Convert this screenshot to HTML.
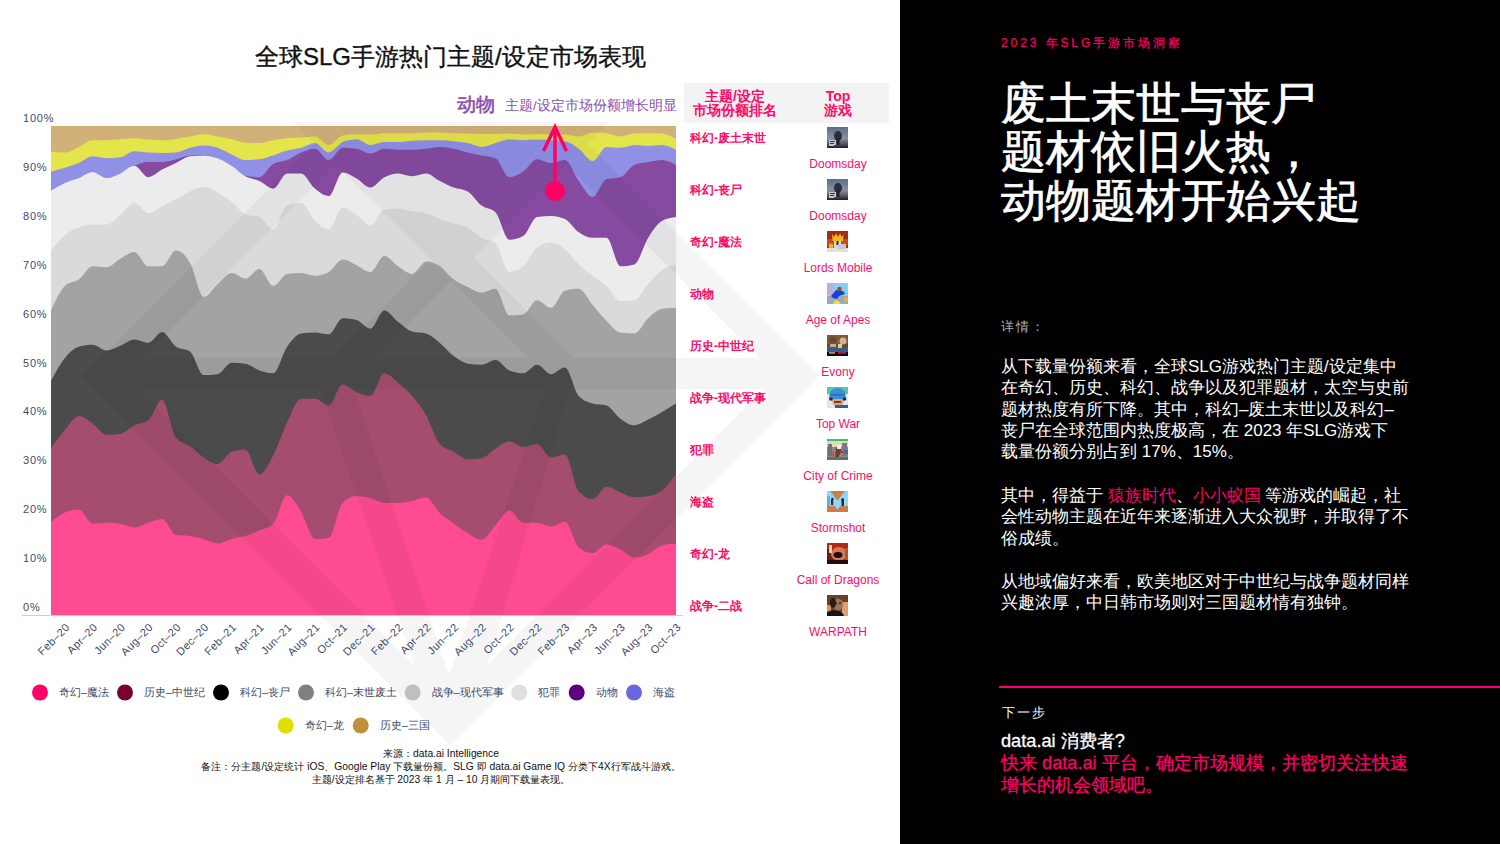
<!DOCTYPE html>
<html><head><meta charset="utf-8">
<style>
*{margin:0;padding:0;box-sizing:border-box}
html,body{width:1500px;height:844px;overflow:hidden;background:#fff;font-family:"Liberation Sans",sans-serif}
#left{position:absolute;left:0;top:0;width:900px;height:844px;background:#fff;overflow:hidden}
#right{position:absolute;left:900px;top:0;width:600px;height:844px;background:#000;overflow:hidden}
.abs{position:absolute;white-space:nowrap}
#title{left:255px;top:41.5px;font-size:24px;color:#111;line-height:30px;-webkit-text-stroke:0.35px #111}
svg text{font-family:"Liberation Sans",sans-serif}
.rname{position:absolute;left:690px;font-size:12px;font-weight:bold;color:#ff0a66;line-height:16px;white-space:nowrap}
.icon{position:absolute;left:827px;width:21px;height:21px}
.gname{position:absolute;left:788px;width:100px;text-align:center;font-size:12px;color:#ff0a66;line-height:16px;white-space:nowrap}
#thead{position:absolute;left:684px;top:83px;width:205px;height:40px;background:#f3f3f3}
.th{position:absolute;text-align:center;font-size:14px;font-weight:bold;color:#ff0a66;line-height:14px}
.note{position:absolute;left:0;width:882px;text-align:center;font-size:10.3px;color:#111;line-height:13px;white-space:nowrap}
#kicker{left:101px;top:35px;font-size:12px;color:#ff0066;letter-spacing:2.9px;line-height:16px;-webkit-text-stroke:0.2px #ff0066}
#big{left:101px;top:79.5px;font-size:45px;color:#fff;line-height:48.8px;-webkit-text-stroke:0.7px #fff}
#detail{left:101px;top:319px;font-size:13px;color:#b0b0b0;letter-spacing:2px;line-height:16px}
.para{position:absolute;left:101px;font-size:17px;color:#fff;line-height:21.4px;white-space:nowrap}
.pk{color:#ff0066}
#pline{position:absolute;left:99px;top:686px;width:501px;height:2px;background:#ff0072}
#next{left:102px;top:705px;font-size:13px;color:#fff;letter-spacing:2px;line-height:16px}
#q{left:101px;top:730px;font-size:18.2px;color:#fff;line-height:22px;-webkit-text-stroke:0.3px #fff}
#cta{left:101px;top:752px;font-size:18.2px;color:#ff0066;line-height:22px;-webkit-text-stroke:0.3px #ff0066}
</style></head><body>
<div id="left">
<div id="title" class="abs">全球SLG手游热门主题/设定市场表现</div>
<svg width="900" height="844" style="position:absolute;left:0;top:0">
<rect x="51.0" y="126.0" width="625.0" height="489.0" fill="#d2b079"/>
<path d="M51.0,151.6C55.6,152.1 60.3,152.5 64.9,152.5C69.5,152.5 74.1,149.0 78.8,146.9C83.4,144.8 88.0,140.2 92.7,140.2C97.3,140.2 101.9,140.2 106.6,140.2C111.2,140.2 115.8,139.6 120.4,139.3C125.1,139.0 129.7,138.3 134.3,138.3C139.0,138.3 143.6,139.3 148.2,139.6C152.9,139.9 157.5,140.2 162.1,140.2C166.7,140.2 171.4,139.5 176.0,138.9C180.6,138.3 185.3,137.2 189.9,136.4C194.5,135.6 199.1,134.3 203.8,134.3C208.4,134.3 213.0,135.6 217.7,136.4C222.3,137.2 226.9,138.2 231.6,139.3C236.2,140.4 240.8,142.4 245.4,142.7C250.1,143.0 254.7,143.1 259.3,143.1C264.0,143.1 268.6,141.0 273.2,140.2C277.9,139.4 282.5,138.8 287.1,138.3C291.7,137.8 296.4,137.7 301.0,137.4C305.6,137.1 310.3,136.4 314.9,136.4C319.5,136.4 324.1,145.0 328.8,145.0C333.4,145.0 338.0,136.4 342.7,135.5C347.3,134.6 351.9,134.2 356.6,134.2C361.2,134.2 365.8,134.5 370.4,134.5C375.1,134.5 379.7,133.2 384.3,133.2C389.0,133.2 393.6,133.2 398.2,133.2C402.9,133.2 407.5,133.2 412.1,133.2C416.7,133.2 421.4,132.6 426.0,132.6C430.6,132.6 435.3,132.6 439.9,132.6C444.5,132.6 449.1,133.0 453.8,133.2C458.4,133.4 463.0,133.5 467.7,133.6C472.3,133.7 476.9,134.0 481.6,134.0C486.2,134.0 490.8,134.0 495.4,134.0C500.1,134.0 504.7,133.6 509.3,133.6C514.0,133.6 518.6,134.5 523.2,134.5C527.9,134.5 532.5,134.0 537.1,134.0C541.7,134.0 546.4,134.5 551.0,134.5C555.6,134.5 560.3,134.5 564.9,134.5C569.5,134.5 574.1,136.4 578.8,136.4C583.4,136.4 588.0,132.6 592.7,132.6C597.3,132.6 601.9,132.8 606.6,133.2C611.2,133.6 615.8,136.4 620.4,136.4C625.1,136.4 629.7,133.9 634.3,133.6C639.0,133.3 643.6,133.2 648.2,133.2C652.9,133.2 657.5,133.3 662.1,133.6C666.7,133.9 671.4,136.6 676.0,139.3L676.0,615.0L51.0,615.0Z" fill="#e4e54a"/>
<path d="M51.0,171.5C55.6,170.3 60.3,169.1 64.9,167.7C69.5,166.3 74.1,164.9 78.8,163.0C83.4,161.1 88.0,156.3 92.7,156.3C97.3,156.3 101.9,158.2 106.6,158.2C111.2,158.2 115.8,157.9 120.4,157.3C125.1,156.7 129.7,151.2 134.3,151.2C139.0,151.2 143.6,152.2 148.2,152.5C152.9,152.8 157.5,152.9 162.1,152.9C166.7,152.9 171.4,152.8 176.0,152.5C180.6,152.2 185.3,149.0 189.9,147.8C194.5,146.6 199.1,145.5 203.8,145.5C208.4,145.5 213.0,146.3 217.7,147.8C222.3,149.3 226.9,152.4 231.6,154.4C236.2,156.4 240.8,160.1 245.4,160.1C250.1,160.1 254.7,159.8 259.3,159.2C264.0,158.6 268.6,156.8 273.2,155.4C277.9,154.0 282.5,151.9 287.1,150.6C291.7,149.3 296.4,149.1 301.0,147.8C305.6,146.6 310.3,143.1 314.9,143.1C319.5,143.1 324.1,152.5 328.8,152.5C333.4,152.5 338.0,144.0 342.7,142.1C347.3,140.2 351.9,139.3 356.6,139.3C361.2,139.3 365.8,145.0 370.4,145.0C375.1,145.0 379.7,142.1 384.3,142.1C389.0,142.1 393.6,142.1 398.2,142.1C402.9,142.1 407.5,141.1 412.1,140.8C416.7,140.5 421.4,140.2 426.0,140.2C430.6,140.2 435.3,140.2 439.9,140.2C444.5,140.2 449.1,140.7 453.8,141.2C458.4,141.7 463.0,142.1 467.7,143.1C472.3,144.0 476.9,146.9 481.6,146.9C486.2,146.9 490.8,144.4 495.4,143.1C500.1,141.8 504.7,139.3 509.3,139.3C514.0,139.3 518.6,140.2 523.2,140.2C527.9,140.2 532.5,139.6 537.1,139.6C541.7,139.6 546.4,139.9 551.0,140.2C555.6,140.5 560.3,140.5 564.9,141.2C569.5,141.9 574.1,145.4 578.8,148.7C583.4,152.0 588.0,161.0 592.7,161.0C597.3,161.0 601.9,146.9 606.6,146.9C611.2,146.9 615.8,147.8 620.4,147.8C625.1,147.8 629.7,145.0 634.3,145.0C639.0,145.0 643.6,145.9 648.2,145.9C652.9,145.9 657.5,145.0 662.1,145.0C666.7,145.0 671.4,147.3 676.0,149.7L676.0,615.0L51.0,615.0Z" fill="#8f90e6"/>
<path d="M51.0,190.5C55.6,187.7 60.3,185.0 64.9,182.9C69.5,180.8 74.1,179.9 78.8,178.1C83.4,176.3 88.0,172.1 92.7,172.1C97.3,172.1 101.9,178.1 106.6,178.1C111.2,178.1 115.8,175.4 120.4,173.4C125.1,171.3 129.7,167.7 134.3,165.8C139.0,163.9 143.6,162.0 148.2,162.0C152.9,162.0 157.5,162.0 162.1,162.0C166.7,162.0 171.4,160.3 176.0,159.2C180.6,158.1 185.3,155.7 189.9,155.4C194.5,155.1 199.1,155.0 203.8,155.0C208.4,155.0 213.0,156.4 217.7,158.2C222.3,160.0 226.9,162.9 231.6,165.8C236.2,168.7 240.8,174.7 245.4,175.7C250.1,176.7 254.7,177.2 259.3,177.2C264.0,177.2 268.6,166.4 273.2,163.9C277.9,161.4 282.5,162.0 287.1,160.1C291.7,158.2 296.4,154.4 301.0,152.5C305.6,150.6 310.3,148.7 314.9,148.7C319.5,148.7 324.1,160.1 328.8,160.1C333.4,160.1 338.0,147.8 342.7,147.8C347.3,147.8 351.9,148.1 356.6,148.7C361.2,149.3 365.8,153.5 370.4,153.5C375.1,153.5 379.7,148.7 384.3,148.7C389.0,148.7 393.6,149.7 398.2,149.7C402.9,149.7 407.5,149.7 412.1,149.7C416.7,149.7 421.4,149.2 426.0,148.7C430.6,148.2 435.3,146.9 439.9,146.9C444.5,146.9 449.1,147.8 453.8,148.7C458.4,149.6 463.0,151.4 467.7,152.5C472.3,153.6 476.9,154.5 481.6,155.4C486.2,156.3 490.8,156.3 495.4,158.2C500.1,160.1 504.7,177.2 509.3,177.2C514.0,177.2 518.6,174.5 523.2,171.5C527.9,168.5 532.5,159.2 537.1,159.2C541.7,159.2 546.4,163.0 551.0,163.0C555.6,163.0 560.3,160.1 564.9,160.1C569.5,160.1 574.1,174.8 578.8,181.0C583.4,187.2 588.0,197.1 592.7,197.1C597.3,197.1 601.9,180.4 606.6,179.1C611.2,177.8 615.8,178.5 620.4,177.2C625.1,175.9 629.7,166.8 634.3,164.9C639.0,163.0 643.6,162.8 648.2,162.0C652.9,161.2 657.5,160.1 662.1,160.1C666.7,160.1 671.4,162.5 676.0,164.9L676.0,615.0L51.0,615.0Z" fill="#864ba1"/>
<path d="M51.0,190.5C55.6,187.7 60.3,185.0 64.9,182.9C69.5,180.8 74.1,179.9 78.8,178.1C83.4,176.3 88.0,172.1 92.7,172.1C97.3,172.1 101.9,178.1 106.6,178.1C111.2,178.1 115.8,175.4 120.4,173.4C125.1,171.3 129.7,165.8 134.3,165.8C139.0,165.8 143.6,177.2 148.2,177.2C152.9,177.2 157.5,172.0 162.1,169.6C166.7,167.2 171.4,165.2 176.0,163.0C180.6,160.8 185.3,156.9 189.9,156.3C194.5,155.7 199.1,155.4 203.8,155.4C208.4,155.4 213.0,156.5 217.7,158.2C222.3,159.9 226.9,162.8 231.6,165.8C236.2,168.8 240.8,173.7 245.4,176.2C250.1,178.7 254.7,178.9 259.3,181.0C264.0,183.1 268.6,188.6 273.2,188.6C277.9,188.6 282.5,173.4 287.1,173.4C291.7,173.4 296.4,173.4 301.0,173.4C305.6,173.4 310.3,184.8 314.9,188.6C319.5,192.4 324.1,196.1 328.8,196.1C333.4,196.1 338.0,172.4 342.7,172.4C347.3,172.4 351.9,176.0 356.6,178.5C361.2,181.0 365.8,187.6 370.4,187.6C375.1,187.6 379.7,179.6 384.3,177.2C389.0,174.8 393.6,173.4 398.2,173.4C402.9,173.4 407.5,176.2 412.1,176.2C416.7,176.2 421.4,173.4 426.0,173.4C430.6,173.4 435.3,178.6 439.9,181.0C444.5,183.4 449.1,185.9 453.8,187.6C458.4,189.3 463.0,188.9 467.7,191.4C472.3,193.9 476.9,202.1 481.6,205.6C486.2,209.1 490.8,207.8 495.4,212.3C500.1,216.8 504.7,239.7 509.3,239.7C514.0,239.7 518.6,238.5 523.2,236.0C527.9,233.5 532.5,217.7 537.1,217.0C541.7,216.3 546.4,216.0 551.0,216.0C555.6,216.0 560.3,217.0 564.9,218.9C569.5,220.8 574.1,229.0 578.8,232.2C583.4,235.3 588.0,237.8 592.7,237.8C597.3,237.8 601.9,237.8 606.6,237.8C611.2,237.8 615.8,266.3 620.4,266.3C625.1,266.3 629.7,265.7 634.3,264.4C639.0,263.1 643.6,245.1 648.2,237.8C652.9,230.5 657.5,223.3 662.1,220.8C666.7,218.3 671.4,217.6 676.0,217.0L676.0,615.0L51.0,615.0Z" fill="#ececec"/>
<path d="M51.0,251.0C55.6,245.0 60.3,238.9 64.9,235.0C69.5,231.1 74.1,229.1 78.8,227.4C83.4,225.7 88.0,224.6 92.7,224.6C97.3,224.6 101.9,224.6 106.6,224.6C111.2,224.6 115.8,218.7 120.4,215.1C125.1,211.5 129.7,202.8 134.3,202.8C139.0,202.8 143.6,213.2 148.2,213.2C152.9,213.2 157.5,209.0 162.1,206.6C166.7,204.2 171.4,201.5 176.0,199.0C180.6,196.5 185.3,193.5 189.9,191.4C194.5,189.3 199.1,186.7 203.8,186.7C208.4,186.7 213.0,189.9 217.7,192.4C222.3,194.9 226.9,198.2 231.6,201.8C236.2,205.4 240.8,212.3 245.4,214.2C250.1,216.1 254.7,215.1 259.3,217.0C264.0,218.9 268.6,229.3 273.2,229.3C277.9,229.3 282.5,207.5 287.1,205.6C291.7,203.7 296.4,202.8 301.0,202.8C305.6,202.8 310.3,216.4 314.9,220.8C319.5,225.2 324.1,229.3 328.8,229.3C333.4,229.3 338.0,207.5 342.7,207.5C347.3,207.5 351.9,212.1 356.6,215.1C361.2,218.1 365.8,225.5 370.4,225.5C375.1,225.5 379.7,210.0 384.3,209.4C389.0,208.8 393.6,208.5 398.2,208.5C402.9,208.5 407.5,210.5 412.1,211.3C416.7,212.1 421.4,211.9 426.0,213.2C430.6,214.5 435.3,217.2 439.9,218.9C444.5,220.6 449.1,222.2 453.8,223.6C458.4,225.0 463.0,225.0 467.7,227.4C472.3,229.8 476.9,235.1 481.6,237.8C486.2,240.5 490.8,239.7 495.4,243.5C500.1,247.3 504.7,272.0 509.3,272.0C514.0,272.0 518.6,270.1 523.2,266.3C527.9,262.5 532.5,250.4 537.1,247.3C541.7,244.2 546.4,242.6 551.0,242.6C555.6,242.6 560.3,245.6 564.9,249.2C569.5,252.8 574.1,260.0 578.8,264.4C583.4,268.8 588.0,272.2 592.7,275.8C597.3,279.4 601.9,281.8 606.6,286.0C611.2,290.2 615.8,301.2 620.4,301.2C625.1,301.2 629.7,300.9 634.3,300.2C639.0,299.5 643.6,289.0 648.2,284.0C652.9,279.0 657.5,273.3 662.1,270.0C666.7,266.7 671.4,265.6 676.0,264.4L676.0,615.0L51.0,615.0Z" fill="#dadada"/>
<path d="M51.0,310.6C55.6,300.4 60.3,290.3 64.9,286.0C69.5,281.7 74.1,282.9 78.8,279.6C83.4,276.3 88.0,266.3 92.7,266.3C97.3,266.3 101.9,267.2 106.6,267.2C111.2,267.2 115.8,261.2 120.4,258.7C125.1,256.2 129.7,252.0 134.3,252.0C139.0,252.0 143.6,266.3 148.2,266.3C152.9,266.3 157.5,266.3 162.1,266.3C166.7,266.3 171.4,250.2 176.0,250.2C180.6,250.2 185.3,254.7 189.9,262.5C194.5,270.3 199.1,297.0 203.8,297.0C208.4,297.0 213.0,288.0 217.7,284.0C222.3,280.0 226.9,273.0 231.6,273.0C236.2,273.0 240.8,278.6 245.4,278.6C250.1,278.6 254.7,269.1 259.3,269.1C264.0,269.1 268.6,286.0 273.2,286.0C277.9,286.0 282.5,274.5 287.1,273.9C291.7,273.3 296.4,273.0 301.0,273.0C305.6,273.0 310.3,275.8 314.9,275.8C319.5,275.8 324.1,274.5 328.8,272.0C333.4,269.5 338.0,259.6 342.7,259.6C347.3,259.6 351.9,263.2 356.6,265.3C361.2,267.4 365.8,272.0 370.4,272.0C375.1,272.0 379.7,255.9 384.3,255.9C389.0,255.9 393.6,263.3 398.2,266.3C402.9,269.3 407.5,273.9 412.1,273.9C416.7,273.9 421.4,261.5 426.0,261.5C430.6,261.5 435.3,263.3 439.9,266.3C444.5,269.3 449.1,276.2 453.8,279.6C458.4,283.1 463.0,284.8 467.7,287.0C472.3,289.2 476.9,292.6 481.6,292.6C486.2,292.6 490.8,288.8 495.4,288.8C500.1,288.8 504.7,315.4 509.3,315.4C514.0,315.4 518.6,315.1 523.2,314.4C527.9,313.7 532.5,300.2 537.1,300.2C541.7,300.2 546.4,307.8 551.0,307.8C555.6,307.8 560.3,292.0 564.9,290.7C569.5,289.4 574.1,288.8 578.8,288.8C583.4,288.8 588.0,299.6 592.7,305.0C597.3,310.4 601.9,316.4 606.6,321.0C611.2,325.6 615.8,331.7 620.4,332.4C625.1,333.1 629.7,333.4 634.3,333.4C639.0,333.4 643.6,322.3 648.2,318.2C652.9,314.1 657.5,309.3 662.1,308.7C666.7,308.1 671.4,307.9 676.0,307.8L676.0,615.0L51.0,615.0Z" fill="#a3a3a3"/>
<path d="M51.0,380.8C55.6,372.2 60.3,363.7 64.9,358.0C69.5,352.3 74.1,348.0 78.8,346.7C83.4,345.4 88.0,344.8 92.7,344.8C97.3,344.8 101.9,350.5 106.6,350.5C111.2,350.5 115.8,347.5 120.4,345.7C125.1,343.9 129.7,339.6 134.3,339.6C139.0,339.6 143.6,342.9 148.2,342.9C152.9,342.9 157.5,332.1 162.1,332.1C166.7,332.1 171.4,343.6 176.0,346.7C180.6,349.8 185.3,348.3 189.9,351.4C194.5,354.5 199.1,375.1 203.8,375.1C208.4,375.1 213.0,374.8 217.7,374.2C222.3,373.6 226.9,362.8 231.6,362.8C236.2,362.8 240.8,363.1 245.4,363.7C250.1,364.3 254.7,368.8 259.3,370.4C264.0,372.0 268.6,373.2 273.2,373.2C277.9,373.2 282.5,353.3 287.1,346.7C291.7,340.1 296.4,334.1 301.0,333.4C305.6,332.7 310.3,332.4 314.9,332.4C319.5,332.4 324.1,334.3 328.8,334.3C333.4,334.3 338.0,318.2 342.7,318.2C347.3,318.2 351.9,318.8 356.6,320.1C361.2,321.4 365.8,328.7 370.4,328.7C375.1,328.7 379.7,310.6 384.3,310.6C389.0,310.6 393.6,318.5 398.2,322.0C402.9,325.5 407.5,330.2 412.1,331.5C416.7,332.8 421.4,332.1 426.0,333.4C430.6,334.7 435.3,339.1 439.9,342.9C444.5,346.7 449.1,352.6 453.8,356.1C458.4,359.6 463.0,363.0 467.7,363.7C472.3,364.4 476.9,364.7 481.6,364.7C486.2,364.7 490.8,359.9 495.4,359.9C500.1,359.9 504.7,368.5 509.3,370.4C514.0,372.3 518.6,373.2 523.2,373.2C527.9,373.2 532.5,364.7 537.1,364.7C541.7,364.7 546.4,374.2 551.0,374.2C555.6,374.2 560.3,367.5 564.9,367.5C569.5,367.5 574.1,391.0 578.8,396.0C583.4,401.0 588.0,402.2 592.7,403.5C597.3,404.8 601.9,404.1 606.6,405.4C611.2,406.7 615.8,415.4 620.4,418.7C625.1,422.0 629.7,425.3 634.3,425.3C639.0,425.3 643.6,421.8 648.2,419.6C652.9,417.4 657.5,414.7 662.1,412.0C666.7,409.3 671.4,406.4 676.0,403.5L676.0,615.0L51.0,615.0Z" fill="#4b4b4b"/>
<path d="M51.0,448.0C55.6,441.7 60.3,435.4 64.9,430.0C69.5,424.6 74.1,415.9 78.8,415.9C83.4,415.9 88.0,420.2 92.7,423.4C97.3,426.5 101.9,434.8 106.6,434.8C111.2,434.8 115.8,434.5 120.4,433.9C125.1,433.3 129.7,427.5 134.3,425.3C139.0,423.1 143.6,423.7 148.2,420.6C152.9,417.5 157.5,399.7 162.1,399.7C166.7,399.7 171.4,432.2 176.0,437.7C180.6,443.2 185.3,442.7 189.9,446.0C194.5,449.3 199.1,454.4 203.8,457.4C208.4,460.4 213.0,464.0 217.7,464.0C222.3,464.0 226.9,453.0 231.6,451.7C236.2,450.4 240.8,449.8 245.4,449.8C250.1,449.8 254.7,474.4 259.3,474.4C264.0,474.4 268.6,464.1 273.2,455.5C277.9,446.9 282.5,431.9 287.1,422.5C291.7,413.0 296.4,398.8 301.0,398.8C305.6,398.8 310.3,398.8 314.9,398.8C319.5,398.8 324.1,405.4 328.8,405.4C333.4,405.4 338.0,384.6 342.7,384.6C347.3,384.6 351.9,390.3 356.6,392.2C361.2,394.1 365.8,396.0 370.4,396.0C375.1,396.0 379.7,373.2 384.3,373.2C389.0,373.2 393.6,378.9 398.2,382.7C402.9,386.5 407.5,390.6 412.1,396.0C416.7,401.4 421.4,406.9 426.0,414.9C430.6,422.9 435.3,438.9 439.9,444.0C444.5,449.1 449.1,449.1 453.8,451.7C458.4,454.2 463.0,459.3 467.7,459.3C472.3,459.3 476.9,459.0 481.6,458.3C486.2,457.6 490.8,451.6 495.4,448.8C500.1,446.0 504.7,441.5 509.3,441.5C514.0,441.5 518.6,447.0 523.2,447.0C527.9,447.0 532.5,444.0 537.1,444.0C541.7,444.0 546.4,457.4 551.0,457.4C555.6,457.4 560.3,454.5 564.9,454.5C569.5,454.5 574.1,486.4 578.8,491.5C583.4,496.6 588.0,499.1 592.7,499.1C597.3,499.1 601.9,486.8 606.6,486.8C611.2,486.8 615.8,490.7 620.4,492.4C625.1,494.1 629.7,497.2 634.3,497.2C639.0,497.2 643.6,496.9 648.2,496.2C652.9,495.5 657.5,494.1 662.1,490.5C666.7,486.9 671.4,480.6 676.0,474.4L676.0,615.0L51.0,615.0Z" fill="#a44d6e"/>
<path d="M51.0,521.8C55.6,518.1 60.3,514.3 64.9,512.4C69.5,510.5 74.1,509.5 78.8,509.5C83.4,509.5 88.0,523.7 92.7,523.7C97.3,523.7 101.9,522.8 106.6,522.8C111.2,522.8 115.8,523.1 120.4,523.7C125.1,524.3 129.7,527.5 134.3,527.5C139.0,527.5 143.6,524.2 148.2,522.8C152.9,521.4 157.5,519.0 162.1,519.0C166.7,519.0 171.4,534.5 176.0,535.1C180.6,535.7 185.3,535.4 189.9,536.0C194.5,536.6 199.1,538.0 203.8,539.3C208.4,540.6 213.0,543.6 217.7,543.6C222.3,543.6 226.9,540.2 231.6,538.9C236.2,537.6 240.8,537.4 245.4,536.0C250.1,534.6 254.7,532.4 259.3,530.4C264.0,528.4 268.6,528.2 273.2,523.7C277.9,519.2 282.5,495.3 287.1,495.3C291.7,495.3 296.4,504.1 301.0,511.4C305.6,518.7 310.3,538.9 314.9,538.9C319.5,538.9 324.1,538.6 328.8,537.9C333.4,537.2 338.0,507.5 342.7,502.9C347.3,498.3 351.9,496.0 356.6,496.0C361.2,496.0 365.8,497.0 370.4,498.1C375.1,499.2 379.7,502.9 384.3,502.9C389.0,502.9 393.6,502.9 398.2,502.9C402.9,502.9 407.5,501.9 412.1,501.0C416.7,500.1 421.4,497.2 426.0,497.2C430.6,497.2 435.3,508.9 439.9,513.3C444.5,517.7 449.1,520.4 453.8,523.7C458.4,527.0 463.0,530.5 467.7,533.2C472.3,535.9 476.9,539.8 481.6,539.8C486.2,539.8 490.8,530.5 495.4,525.6C500.1,520.7 504.7,510.5 509.3,510.5C514.0,510.5 518.6,522.8 523.2,522.8C527.9,522.8 532.5,522.8 537.1,522.8C541.7,522.8 546.4,526.6 551.0,526.6C555.6,526.6 560.3,521.8 564.9,521.8C569.5,521.8 574.1,543.6 578.8,547.4C583.4,551.2 588.0,553.1 592.7,553.1C597.3,553.1 601.9,544.6 606.6,544.6C611.2,544.6 615.8,547.1 620.4,549.3C625.1,551.5 629.7,557.8 634.3,557.8C639.0,557.8 643.6,556.0 648.2,554.0C652.9,552.0 657.5,546.8 662.1,545.5C666.7,544.2 671.4,543.9 676.0,543.6L676.0,615.0L51.0,615.0Z" fill="#ff4b91"/>
<path d="M524.0,122.0L566.0,122.0L819.5,375.5L777.5,375.5ZM777.5,375.5L819.5,375.5L450.0,745.0L450.5,701.5ZM450.5,701.5L450.0,745.0L81.5,376.5L124.5,375.5ZM124.5,375.5L81.5,376.5L336.0,122.0L378.0,122.0ZM140.0,358.0L770.0,358.0L790.0,375.5L770.0,389.0L138.0,389.0L118.0,375.5ZM293.0,122.0L338.0,122.0L578.0,362.0L533.0,362.0ZM568.0,122.0L610.0,122.0L370.0,362.0L328.0,362.0ZM336.0,122.0L566.0,122.0L453.0,237.0ZM319.2,385.0L352.7,385.0L449.0,676.0L414.5,665.5ZM546.3,385.0L571.2,385.0L487.0,665.5L449.0,676.0ZM412.0,663.0L449.0,673.0L490.0,663.0L450.5,705.0Z" fill="#000" fill-opacity="0.04" fill-rule="nonzero"/>
<line x1="22" y1="615.5" x2="683" y2="615.5" stroke="#c9ced8" stroke-width="1"/>
<g font-size="11" fill="#3b4a6b" letter-spacing="0.8">
<text x="23" y="611.0">0%</text>
<text x="23" y="562.1">10%</text>
<text x="23" y="513.2">20%</text>
<text x="23" y="464.3">30%</text>
<text x="23" y="415.4">40%</text>
<text x="23" y="366.5">50%</text>
<text x="23" y="317.6">60%</text>
<text x="23" y="268.7">70%</text>
<text x="23" y="219.8">80%</text>
<text x="23" y="170.9">90%</text>
<text x="23" y="122.0">100%</text>
</g>
<g font-size="11" fill="#3b4a6b" letter-spacing="0.4">
<text transform="translate(70.4,628) rotate(-45)" text-anchor="end">Feb–20</text>
<text transform="translate(98.2,628) rotate(-45)" text-anchor="end">Apr–20</text>
<text transform="translate(125.9,628) rotate(-45)" text-anchor="end">Jun–20</text>
<text transform="translate(153.7,628) rotate(-45)" text-anchor="end">Aug–20</text>
<text transform="translate(181.5,628) rotate(-45)" text-anchor="end">Oct–20</text>
<text transform="translate(209.3,628) rotate(-45)" text-anchor="end">Dec–20</text>
<text transform="translate(237.1,628) rotate(-45)" text-anchor="end">Feb–21</text>
<text transform="translate(264.8,628) rotate(-45)" text-anchor="end">Apr–21</text>
<text transform="translate(292.6,628) rotate(-45)" text-anchor="end">Jun–21</text>
<text transform="translate(320.4,628) rotate(-45)" text-anchor="end">Aug–21</text>
<text transform="translate(348.2,628) rotate(-45)" text-anchor="end">Oct–21</text>
<text transform="translate(375.9,628) rotate(-45)" text-anchor="end">Dec–21</text>
<text transform="translate(403.7,628) rotate(-45)" text-anchor="end">Feb–22</text>
<text transform="translate(431.5,628) rotate(-45)" text-anchor="end">Apr–22</text>
<text transform="translate(459.3,628) rotate(-45)" text-anchor="end">Jun–22</text>
<text transform="translate(487.1,628) rotate(-45)" text-anchor="end">Aug–22</text>
<text transform="translate(514.8,628) rotate(-45)" text-anchor="end">Oct–22</text>
<text transform="translate(542.6,628) rotate(-45)" text-anchor="end">Dec–22</text>
<text transform="translate(570.4,628) rotate(-45)" text-anchor="end">Feb–23</text>
<text transform="translate(598.2,628) rotate(-45)" text-anchor="end">Apr–23</text>
<text transform="translate(625.9,628) rotate(-45)" text-anchor="end">Jun–23</text>
<text transform="translate(653.7,628) rotate(-45)" text-anchor="end">Aug–23</text>
<text transform="translate(681.5,628) rotate(-45)" text-anchor="end">Oct–23</text>
</g>
<g font-size="11" fill="#3b4a6b">
<circle cx="40" cy="692.5" r="8" fill="#ff0066"/><text x="59" y="695.8">奇幻–魔法</text>
<circle cx="125" cy="692.5" r="8" fill="#7a0030"/><text x="144" y="695.8">历史–中世纪</text>
<circle cx="221" cy="692.5" r="8" fill="#000000"/><text x="240" y="695.8">科幻–丧尸</text>
<circle cx="306" cy="692.5" r="8" fill="#808080"/><text x="325" y="695.8">科幻–末世废土</text>
<circle cx="412.7" cy="692.5" r="8" fill="#bfbfbf"/><text x="431.7" y="695.8">战争–现代军事</text>
<circle cx="519.3" cy="692.5" r="8" fill="#e0e0e0"/><text x="538.3" y="695.8">犯罪</text>
<circle cx="576.7" cy="692.5" r="8" fill="#5c0080"/><text x="595.7" y="695.8">动物</text>
<circle cx="634" cy="692.5" r="8" fill="#6b66e0"/><text x="653" y="695.8">海盗</text>
<circle cx="285.7" cy="725.5" r="8" fill="#dede00"/><text x="304.7" y="728.8">奇幻–龙</text>
<circle cx="360.7" cy="725.5" r="8" fill="#c09040"/><text x="379.7" y="728.8">历史–三国</text>
</g>
<g stroke="#ff0066" stroke-width="3.5" fill="none" stroke-linecap="butt">
<line x1="555" y1="190" x2="555" y2="128"/>
<polyline points="543.5,151 555,127 566.5,151"/>
</g>
<circle cx="555" cy="191" r="10" fill="#ff0066"/>
<text x="457" y="110.5" font-size="19" fill="#8a4fb0" stroke="#8a4fb0" stroke-width="0.6">动物</text>
<text x="505" y="110" font-size="13.5" fill="#8a4fb0">主题/设定市场份额增长明显</text>
</svg>
<div id="thead"></div>
<div class="th" style="left:684px;top:89px;width:102px">主题/设定<br>市场份额排名</div>
<div class="th" style="left:788px;top:89px;width:100px">Top<br>游戏</div>
<div class="rname" style="top:130px">科幻-废土末世</div>
<svg class="icon" style="top:127px" width="21" height="21" viewBox="0 0 21 21"><defs><linearGradient id="gd0" x1="0" y1="0" x2="0" y2="1"><stop offset="0" stop-color="#5d6d84"/><stop offset="0.55" stop-color="#8592a6"/><stop offset="1" stop-color="#1b222c"/></linearGradient></defs><rect width="21" height="21" fill="url(#gd0)"/><ellipse cx="11" cy="9" rx="4" ry="5" fill="#2a2f38"/><rect x="9.5" y="11" width="3" height="7" fill="#1f232a"/><rect x="2" y="13" width="7" height="6" fill="#c8c8c8"/><rect x="3" y="14" width="5" height="1" fill="#333"/><rect x="3" y="16" width="4" height="1" fill="#333"/><circle cx="15.5" cy="16" r="1.4" fill="#c0402a"/><rect x="7" y="18" width="5" height="1.3" fill="#a0104a"/></svg>
<div class="gname" style="top:156px">Doomsday</div>
<div class="rname" style="top:182px">科幻-丧尸</div>
<svg class="icon" style="top:179px" width="21" height="21" viewBox="0 0 21 21"><defs><linearGradient id="gd1" x1="0" y1="0" x2="0" y2="1"><stop offset="0" stop-color="#5d6d84"/><stop offset="0.55" stop-color="#8592a6"/><stop offset="1" stop-color="#1b222c"/></linearGradient></defs><rect width="21" height="21" fill="url(#gd1)"/><ellipse cx="11" cy="9" rx="4" ry="5" fill="#2a2f38"/><rect x="9.5" y="11" width="3" height="7" fill="#1f232a"/><rect x="2" y="13" width="7" height="6" fill="#c8c8c8"/><rect x="3" y="14" width="5" height="1" fill="#333"/><rect x="3" y="16" width="4" height="1" fill="#333"/><circle cx="15.5" cy="16" r="1.4" fill="#c0402a"/><rect x="7" y="18" width="5" height="1.3" fill="#a0104a"/></svg>
<div class="gname" style="top:208px">Doomsday</div>
<div class="rname" style="top:234px">奇幻-魔法</div>
<svg class="icon" style="top:231px" width="21" height="21" viewBox="0 0 21 21"><rect width="21" height="21" fill="#a62a1a"/><rect x="0" y="8" width="21" height="6" fill="#c84a22"/><path d="M5,3 L7,6 L9,2.5 L11,6 L13,2.5 L15,6 L16.5,3 L16,10 L5.5,10Z" fill="#f0b820"/><rect x="7" y="10" width="7" height="7" fill="#d8d8d8"/><rect x="9.5" y="10" width="2" height="4" fill="#3a2010"/><circle cx="4" cy="15" r="2.5" fill="#f0b020"/><circle cx="17" cy="15" r="2.2" fill="#e8a820"/><rect x="0" y="17" width="21" height="4" fill="#e0e0e0"/><rect x="11" y="13" width="8" height="5" fill="#c8c8c8"/></svg>
<div class="gname" style="top:260px">Lords Mobile</div>
<div class="rname" style="top:286px">动物</div>
<svg class="icon" style="top:283px" width="21" height="21" viewBox="0 0 21 21"><rect width="21" height="21" fill="#86cef2"/><rect x="0" y="0" width="6" height="12" fill="#b8b0d8"/><rect x="0" y="13" width="21" height="8" fill="#9aa8c0"/><path d="M4,13 L9,7 L16,8 L18,11 L12,13 L10,16 L6,15Z" fill="#1a40d8"/><circle cx="12.5" cy="6" r="2.2" fill="#8a5030"/><path d="M6,21 L8,17 L12,18 L14,21Z" fill="#f0e020"/><circle cx="19" cy="16.5" r="2" fill="#e8c020"/></svg>
<div class="gname" style="top:312px">Age of Apes</div>
<div class="rname" style="top:338px">历史-中世纪</div>
<svg class="icon" style="top:335px" width="21" height="21" viewBox="0 0 21 21"><rect width="21" height="21" fill="#5a4a40"/><rect x="0" y="0" width="21" height="9" fill="#7a5a40"/><circle cx="6" cy="5" r="3.5" fill="#6a4a30"/><circle cx="16" cy="6" r="3.5" fill="#d8b090"/><rect x="3" y="9" width="6" height="4" fill="#c8a890"/><rect x="0" y="12" width="21" height="5" fill="#3a5a8a"/><rect x="0" y="17" width="21" height="4" fill="#0a0a0a"/><rect x="2" y="17" width="6" height="1.8" fill="#d08050"/><rect x="11" y="17" width="8" height="1.8" fill="#c01050"/><rect x="11" y="9" width="4" height="4" fill="#e8d060"/></svg>
<div class="gname" style="top:364px">Evony</div>
<div class="rname" style="top:390px">战争-现代军事</div>
<svg class="icon" style="top:387px" width="21" height="21" viewBox="0 0 21 21"><rect width="21" height="21" fill="#e4e6ea"/><rect x="0" y="0" width="21" height="7" fill="#52c8a6"/><path d="M2,12 Q2,1 10.5,1 Q19,1 19,12Z" fill="#3d8ed8"/><rect x="3" y="7" width="15" height="1.5" fill="#2a6ab8"/><path d="M5,12 Q5,19 11,20 Q17,19 17,12Z" fill="#e0a078"/><rect x="7" y="14" width="7" height="1.8" fill="#803020"/><rect x="8" y="18" width="13" height="3" fill="#2e5e9e"/><circle cx="4" cy="12" r="1.8" fill="#1a2a40"/><circle cx="17.5" cy="12" r="1.8" fill="#1a2a40"/></svg>
<div class="gname" style="top:416px">Top War</div>
<div class="rname" style="top:442px">犯罪</div>
<svg class="icon" style="top:439px" width="21" height="21" viewBox="0 0 21 21"><rect width="21" height="21" fill="#8a8a88"/><rect x="0" y="0" width="21" height="2" fill="#48b878"/><rect x="0" y="2" width="21" height="6" fill="#dcdcb0"/><rect x="1" y="5" width="4" height="12" fill="#70707a"/><rect x="15" y="4" width="5" height="13" fill="#7a7a84"/><path d="M9,8 L14,6 L14,12 L11,20 L8,20Z" fill="#6a4030"/><rect x="10" y="6" width="4" height="4" fill="#eeeeee"/><rect x="5" y="12" width="2" height="5" fill="#e05030"/><rect x="13" y="12" width="3" height="2" fill="#e02020"/><rect x="0" y="18" width="21" height="3" fill="#6a6a70"/><rect x="17" y="11" width="4" height="4" fill="#4a6aa0"/></svg>
<div class="gname" style="top:468px">City of Crime</div>
<div class="rname" style="top:494px">海盗</div>
<svg class="icon" style="top:491px" width="21" height="21" viewBox="0 0 21 21"><rect width="21" height="21" fill="#90d6f6"/><path d="M3,0 L18,0 L10.5,9.5Z" fill="#c97e4c"/><path d="M0,15 L7.5,15 L10.5,18.5 L13.5,15 L21,15 L21,21 L0,21Z" fill="#c97e4c"/><rect x="4" y="8" width="2.2" height="6" fill="#203048"/><circle cx="5.5" cy="8" r="1.2" fill="#203048"/><rect x="14.5" y="9" width="2.4" height="6" fill="#282828"/><circle cx="15.6" cy="8.5" r="1.3" fill="#1a1a1a"/><rect x="0" y="5" width="3" height="10" fill="#6aaed8"/></svg>
<div class="gname" style="top:520px">Stormshot</div>
<div class="rname" style="top:546px">奇幻-龙</div>
<svg class="icon" style="top:543px" width="21" height="21" viewBox="0 0 21 21"><rect width="21" height="21" fill="#6a1a10"/><rect x="0" y="0" width="21" height="6" fill="#b02818"/><ellipse cx="12" cy="11" rx="8" ry="7" fill="#d07a5a"/><ellipse cx="11" cy="12" rx="4.5" ry="3" fill="#200808"/><rect x="2" y="2" width="3" height="8" fill="#e8d0a0"/><rect x="0" y="17" width="21" height="4" fill="#2a0a08"/><rect x="18" y="5" width="3" height="12" fill="#a85a30"/></svg>
<div class="gname" style="top:572px">Call of Dragons</div>
<div class="rname" style="top:598px">战争-二战</div>
<svg class="icon" style="top:595px" width="21" height="21" viewBox="0 0 21 21"><rect width="21" height="21" fill="#6a4028"/><rect x="15" y="7" width="6" height="14" fill="#e0a070"/><rect x="0" y="10" width="4" height="8" fill="#d89060"/><ellipse cx="11" cy="9.5" rx="5" ry="6" fill="#a07058"/><ellipse cx="6" cy="8" rx="3" ry="5" fill="#2a1a14"/><circle cx="13" cy="8" r="0.9" fill="#101010"/><circle cx="9" cy="8.5" r="0.9" fill="#101010"/><path d="M0,17 Q6,14 11,16 Q16,17 17,21 L0,21Z" fill="#141414"/></svg>
<div class="gname" style="top:624px">WARPATH</div>
<div class="note" style="top:747px">来源：data.ai Intelligence</div>
<div class="note" style="top:760px">备注：分主题/设定统计 iOS、Google Play 下载量份额。SLG 即 data.ai Game IQ 分类下4X行军战斗游戏。</div>
<div class="note" style="top:773px">主题/设定排名基于 2023 年 1 月 – 10 月期间下载量表现。</div>
</div>
<div id="right">
<div id="kicker" class="abs">2023 年SLG手游市场洞察</div>
<div id="big" class="abs">废土末世与丧尸<br>题材依旧火热，<br>动物题材开始兴起</div>
<div id="detail" class="abs">详情：</div>
<div class="para" style="top:355.7px">从下载量份额来看，全球SLG游戏热门主题/设定集中<br>在奇幻、历史、科幻、战争以及犯罪题材，太空与史前<br>题材热度有所下降。其中，科幻–废土末世以及科幻–<br>丧尸在全球范围内热度极高，在 2023 年SLG游戏下<br>载量份额分别占到 17%、15%。</div>
<div class="para" style="top:484.7px">其中，得益于 <span class="pk">猿族时代</span>、<span class="pk">小小蚁国</span> 等游戏的崛起，社<br>会性动物主题在近年来逐渐进入大众视野，并取得了不<br>俗成绩。</div>
<div class="para" style="top:570.8px">从地域偏好来看，欧美地区对于中世纪与战争题材同样<br>兴趣浓厚，中日韩市场则对三国题材情有独钟。</div>
<div id="pline"></div>
<div id="next" class="abs">下一步</div>
<div id="q" class="abs">data.ai 消费者?</div>
<div id="cta" class="abs">快来 data.ai 平台，确定市场规模，并密切关注快速<br>增长的机会领域吧。</div>
</div>
</body></html>
